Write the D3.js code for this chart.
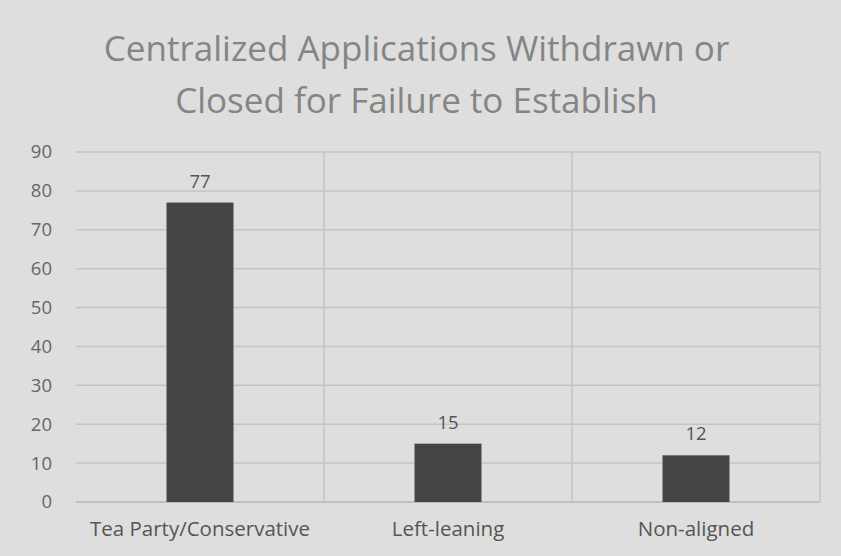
<!DOCTYPE html>
<html><head><meta charset="utf-8">
<script src="https://cdn.jsdelivr.net/npm/d3@7"></script>
<style>
html,body{margin:0;padding:0;background:#dedede;}
svg{display:block;font-family:"Open Sans",sans-serif;}
</style></head>
<body>
<script>
const categories = ["Tea Party/Conservative", "Left-leaning", "Non-aligned"];
const values = [77, 15, 12];
const yTicks = [0, 10, 20, 30, 40, 50, 60, 70, 80, 90];
const titleLines = ["Centralized Applications Withdrawn or", "Closed for Failure to Establish"];

const W = 841, H = 556;
const margin = {left: 76, right: 21, top: 152, bottom: 54};
const svg = d3.select("body").append("svg").attr("width", W).attr("height", H);
svg.append("rect").attr("width", W).attr("height", H).attr("fill", "#dedede");

const x = d3.scaleBand().domain(categories).range([margin.left, W - margin.right]).paddingInner(0).paddingOuter(0);
const y = d3.scaleLinear().domain([0, 90]).range([H - margin.bottom, margin.top]);

// horizontal gridlines
svg.append("g").selectAll("line").data(yTicks).join("line")
  .attr("x1", margin.left).attr("x2", W - margin.right)
  .attr("y1", d => y(d)).attr("y2", d => y(d))
  .attr("stroke", d => d === 0 ? "#b5b5b5" : "#c4c4c4").attr("stroke-width", 1.5);

// vertical gridlines at category boundaries
const bounds = categories.map(c => x(c)).concat([x(categories[categories.length - 1]) + x.bandwidth()]);
svg.append("g").selectAll("line").data(bounds.slice(1)).join("line")
  .attr("x1", d => d).attr("x2", d => d)
  .attr("y1", y(90)).attr("y2", y(0))
  .attr("stroke", "#c4c4c4").attr("stroke-width", 1.5);

// y axis labels
const yAxis = d3.axisLeft(y).tickValues(yTicks).tickSize(0).tickPadding(24);
const gy = svg.append("g").attr("transform", `translate(${margin.left},0)`).call(yAxis);
gy.select(".domain").remove();
gy.selectAll("text").attr("fill", "#666").style("font-size", "18.5px").style("font-family", "'Open Sans',sans-serif");

// x axis labels
const xAxis = d3.axisBottom(x).tickSize(0).tickPadding(19);
const gx = svg.append("g").attr("transform", `translate(0,${y(0)})`).call(xAxis);
gx.select(".domain").remove();
gx.selectAll("text").attr("fill", "#555").style("font-size", "20.5px").style("font-family", "'Open Sans',sans-serif");

// bars
const barW = 67;
svg.append("g").selectAll("rect").data(values).join("rect")
  .attr("x", (d, i) => x(categories[i]) + x.bandwidth() / 2 - barW / 2)
  .attr("width", barW)
  .attr("y", d => y(d))
  .attr("height", d => y(0) - y(d))
  .attr("fill", "#454545");

// data labels
svg.append("g").selectAll("text").data(values).join("text")
  .attr("x", (d, i) => x(categories[i]) + x.bandwidth() / 2)
  .attr("y", d => y(d) - 15)
  .attr("text-anchor", "middle")
  .attr("fill", "#555").style("font-size", "18.5px")
  .text(d => d);

// title
svg.append("g").selectAll("text").data(titleLines).join("text")
  .attr("x", W / 2 - 4).attr("y", (d, i) => 61 + i * 52)
  .attr("text-anchor", "middle")
  .attr("fill", "#858585").style("font-size", "35px")
  .text(d => d);
</script>
</body></html>
